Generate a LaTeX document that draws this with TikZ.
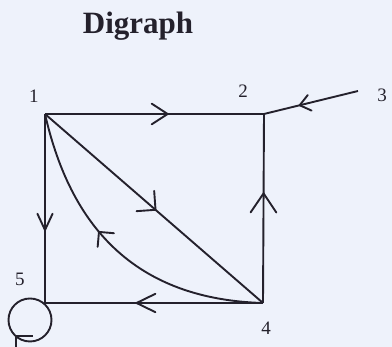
\documentclass[tikz,border=0pt]{standalone}
\usepackage{fontspec}
\setmainfont{Liberation Serif}
\usetikzlibrary{decorations.markings}
\definecolor{bg}{HTML}{EEF2FB}
\definecolor{ink}{HTML}{24212C}
\tikzset{
  edge/.style={draw=ink, line width=1.9pt},
  chev/.style n args={3}{decoration={markings,
      mark=at position #1 with {\draw[ink, line width=1.9pt, line cap=round, line join=miter] (180-#2:#3pt) -- (0,0) -- (180+#2:#3pt);}},
    postaction={decorate}},
  lbl/.style={font=\fontsize{19}{19}\selectfont, text=ink, anchor=base, inner sep=0pt},
  ttl/.style={font=\fontsize{31}{31}\selectfont\bfseries, text=ink, anchor=base, inner sep=0pt}
}
\begin{document}
\begin{tikzpicture}[x=1pt,y=1pt]
\fill[bg] (0,0) rectangle (392,347);
\useasboundingbox (0,0) rectangle (392,347);
\clip (0,0) rectangle (392,347);
% title
\node[ttl] (title) at (138,313.7) {Digraph};
% vertices
\coordinate (n1) at (45,233);
\coordinate (n2) at (264,233);
\coordinate (n3) at (358,256);
\coordinate (n4) at (263,44);
\coordinate (n5) at (45,44);
\coordinate (lc) at (30,27);
% labels
\node[lbl] (l1) at (34,244) {1};
\node[lbl] (l2) at (243,249) {2};
\node[lbl] (l3) at (382,245) {3};
\node[lbl] (l4) at (266,12) {4};
\node[lbl] (l5) at (20,61) {5};
% edges
\path[edge, chev={0.56}{33}{19}] (n1) -- (n2);
\path[edge, chev={0.614}{25}{18}] (n1) -- (n5);
\path[edge, chev={0.58}{34}{23}] (n4) -- (n2);
\path[edge, chev={0.58}{26}{21}] (n4) -- (n5);
\path[edge, chev={0.62}{38}{13}] (n3) -- (n2);
\path[edge, chev={0.507}{45}{19}] (n1) -- (n4);
\path[edge, chev={0.585}{45}{15}] (n4) .. controls (125,48) and (68,132) .. (n1);
% loop at 5
\draw[edge] (lc) circle[radius=21.5];
\draw[ink, line width=1.9pt] (16,-5) -- (16,11) -- (33,11);
\end{tikzpicture}
\end{document}
